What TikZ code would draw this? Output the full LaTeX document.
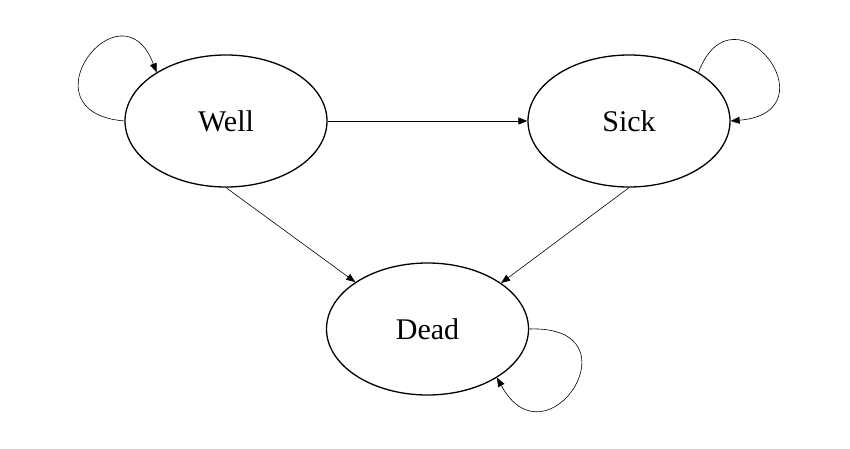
\documentclass[tikz,border=0pt]{standalone}
\usepackage{fontspec}
\setmainfont{Liberation Serif}
\usetikzlibrary{shapes.geometric,arrows.meta}
\begin{document}
\begin{tikzpicture}[x=1pt,y=-1pt,
  state/.style={draw, ellipse, line width=1.3pt, minimum width=202pt, minimum height=132pt, inner sep=0pt, font=\fontsize{30}{36}\selectfont},
  conn/.style={line width=0.6pt, -{Triangle[length=9pt,width=7pt]}}]
\useasboundingbox (0,0) rectangle (850,449);
\node[state] (Well) at (226,121) {Well};
\node[state] (Sick) at (629,121) {Sick};
\node[state] (Dead) at (427.5,329) {Dead};
\draw[conn] (Well.east) -- (Sick.west);
\draw[conn] (Well.south) -- (Dead.147.6);
\draw[conn] (Sick.south) -- (Dead.32.4);
\draw[conn] (Well.west) .. controls +(-105,-9) and +(-35,-93) .. (Well.145);
\draw[conn] (Sick.35) .. controls +(35,-93) and +(105,-9) .. (Sick.east);
\draw[conn] (Dead.east) .. controls +(112,-4) and +(50,92) .. (Dead.-35);
\end{tikzpicture}
\end{document}
